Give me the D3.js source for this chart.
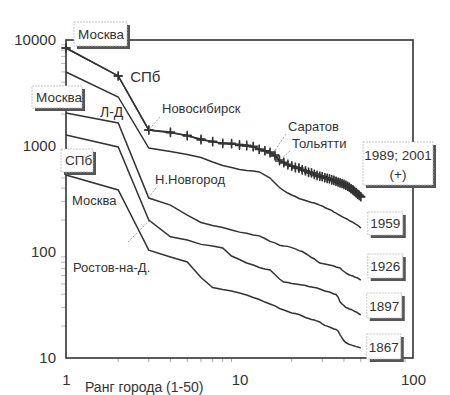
<!DOCTYPE html>
<html>
<head>
<meta charset="utf-8">
<script src="https://cdn.jsdelivr.net/npm/d3@7"></script>
<style>
  body { margin: 0; background: #fff; }
  svg { font-family: "Liberation Sans", Arial, sans-serif; }
</style>
</head>
<body>
<svg id="chart" width="450" height="395"></svg>
<script>
// city populations by rank (thousands)
const ranks = d3.range(1, 51);
const pop1867 = [532,385,104,89.7,80.5,57.4,46.3,44.3,42.9,41.0,39.3,37.2,35.6,33.7,32.3,31.0,29.3,28.4,27.5,26.6,26.3,25.7,24.9,24.1,23.6,23.1,22.8,22.3,21.9,21.0,20.3,20.0,19.6,19.2,18.8,18.6,18.0,16.5,15.5,14.5,14.0,13.7,13.4,13.3,13.1,13.0,12.8,12.7,12.6,12.4];
const pop1897 = [1270,979,200,139,130,118,114,109,91.7,85.0,78.7,75.4,71.4,69.1,67.6,61.4,55.6,52.1,51.5,50.5,49.9,49.3,48.8,48.3,47.3,46.8,46.3,45.7,44.8,43.8,42.9,42.4,41.9,41.0,40.2,39.7,37.6,33.7,32.3,31.3,29.9,29.6,29.0,28.7,28.1,27.5,27.2,26.6,26.0,25.5];
const pop1926 = [2047,1648,323,277,223,190,178,170,161,154,150,145,142,134,126,122,116,114,113,110,107,103,101,96.8,92.7,88.7,85.9,82.2,78.7,77.9,77.1,76.2,75.4,74.6,73.8,72.2,71.4,70.6,67.6,65.5,63.4,62.0,60.7,60.0,59.4,58.1,57.4,56.8,55.6,54.4];
const pop1959 = [4990,2900,957,887,832,779,706,655,627,600,587,581,569,532,499,448,406,380,360,345,334,320,313,306,299,293,290,284,277,272,263,257,252,247,238,233,226,221,216,211,207,203,198,194,190,186,182,178,174,168];
const pop1989 = [8400,4580,1415,1355,1242,1165,1091,1067,1044,1034,1020,980,938,897,880,823,740,690,675,645,634,613,600,581,568,556,544,532,521,516,505,499,489,483,478,468,457,453,443,438,429,420,411,397,389,376,364,352,345,334];
const pop2001 = [8400,4580,1415,1330,1265,1140,1110,1050,1060,1010,1000,995,925,905,860,805,720,705,660,650,620,625,590,585,560,560,535,525,515,510,498,492,492,476,470,462,455,446,440,432,425,414,405,393,382,370,360,348,340,330];

const xTicks = [1, 10, 100];
const yTicks = [10, 100, 1000, 10000];
const xTitle = "Ранг города (1-50)";

const ink = "#333";
const svg = d3.select("#chart");

const x = d3.scaleLog().domain([1, 100]).range([66, 413]);
const y = d3.scaleLog().domain([10, 10000]).range([358, 40]);

// minor ticks
const minorX = [2,3,4,5,6,7,8,9,20,30,40,50,60,70,80,90];
const minorY = [20,30,40,50,60,70,80,90,200,300,400,500,600,700,800,900,2000,3000,4000,5000,6000,7000,8000,9000];
svg.append("g").selectAll("line").data(minorX).join("line")
    .attr("x1", d => x(d)).attr("x2", d => x(d))
    .attr("y1", 358).attr("y2", 362)
    .attr("stroke", "#aaa").attr("stroke-width", 1);
svg.append("g").selectAll("line").data(minorY).join("line")
    .attr("x1", 61).attr("x2", 66)
    .attr("y1", d => y(d)).attr("y2", d => y(d))
    .attr("stroke", "#bbb").attr("stroke-width", 1);

// axes labels
const gx = svg.append("g").attr("transform", "translate(0,358)")
    .call(d3.axisBottom(x).tickValues(xTicks).tickFormat(d3.format("d")).tickSize(0).tickPadding(16));
gx.select(".domain").remove();
gx.selectAll("text").attr("font-size", 15).attr("fill", ink).attr("font-family", null);

const gy = svg.append("g").attr("transform", "translate(56,0)")
    .call(d3.axisLeft(y).tickValues(yTicks).tickFormat(d3.format("d")).tickSize(0).tickPadding(0));
gy.select(".domain").remove();
gy.selectAll("text").attr("font-size", 15).attr("fill", ink).attr("font-family", null);

svg.append("text")
    .attr("x", 85).attr("y", 392)
    .attr("font-size", 14).attr("fill", ink)
    .text(xTitle);

// frame
svg.append("rect")
    .attr("x", x(1)).attr("y", y(10000))
    .attr("width", x(100) - x(1)).attr("height", y(10) - y(10000))
    .attr("fill", "none").attr("stroke", ink).attr("stroke-width", 1.6);

// curves
const line = d3.line()
    .x((d, i) => x(ranks[i]))
    .y(d => y(d));

[pop1867, pop1897, pop1926, pop1959, pop1989, pop2001].forEach(s => {
    svg.append("path")
        .attr("d", line(s))
        .attr("fill", "none")
        .attr("stroke", ink)
        .attr("stroke-width", 1.5);
});

// crosses for 1989 and 2001
const crossPath = "M-4.5,0H4.5M0,-4.5V4.5";
[pop1989, pop2001].forEach(s => {
    svg.append("g").selectAll("path").data(s).join("path")
        .attr("transform", (d, i) => `translate(${x(ranks[i])},${y(d)})`)
        .attr("d", crossPath)
        .attr("stroke", ink)
        .attr("stroke-width", 1.4);
});

// boxed labels with shadow
function boxLabel(bx, by, w, h, lines, size, cx) {
    const g = svg.append("g");
    g.append("rect")
        .attr("x", bx + 3).attr("y", by + 3).attr("width", w).attr("height", h)
        .attr("fill", "#555");
    g.append("rect")
        .attr("x", bx).attr("y", by).attr("width", w).attr("height", h)
        .attr("fill", "#fff").attr("stroke", "#bbb").attr("stroke-width", 0.8)
        .attr("stroke-dasharray", "2,1");
    lines.forEach((t, i) => {
        g.append("text")
            .attr("x", cx ? bx + w / 2 : bx + 4)
            .attr("y", by + t.dy)
            .attr("text-anchor", cx ? "middle" : "start")
            .attr("font-size", size).attr("fill", ink)
            .text(t.text);
    });
}

boxLabel(74, 22, 53, 24, [{text: "Москва", dy: 17}], 13.5);
boxLabel(32, 86, 50, 22, [{text: "Москва", dy: 16}], 13.5);
boxLabel(61, 149, 32, 23, [{text: "СПб", dy: 16}], 13.5);
boxLabel(363, 142, 70, 43, [{text: "1989; 2001", dy: 18}, {text: "(+)", dy: 37}], 13.5, true);

const endX = x(50);
boxLabel(endX + 7, 212, 35, 23, [{text: "1959", dy: 16}], 13.5, true);
boxLabel(endX + 7, 254, 35, 24, [{text: "1926", dy: 17}], 13.5, true);
boxLabel(endX + 6, 293, 35, 25, [{text: "1897", dy: 18}], 13.5, true);
boxLabel(endX + 6, 334, 34, 25, [{text: "1867", dy: 18}], 13.5, true);

// plain labels
function label(tx, ty, t, size) {
    svg.append("text").attr("x", tx).attr("y", ty)
        .attr("font-size", size).attr("fill", ink).text(t);
}
label(x(2) + 12, y(pop1989[1]) + 6, "СПб", 15);
label(100, 117, "Л-Д", 14);
label(162, 113, "Новосибирск", 13);
label(155, 184, "Н.Новгород", 13);
label(72, 205, "Москва", 13);
label(73, 272, "Ростов-на-Д.", 13);
label(288, 131, "Саратов", 13);
label(292, 148, "Тольятти", 13);

// leader lines
const leaders = [
    [[160, 117], [x(3), y(pop1989[2])]],
    [[156, 188], [x(3), y(pop1959[2]) + 49]],
    [[128, 242], [x(3), y(pop1897[2]) + 1]],
    [[286, 134], [x(15) + 4, y(pop1989[14])]],
    [[290, 151], [x(17) + 3, y(pop1989[16]) - 2]]
];
svg.append("g").selectAll("line").data(leaders).join("line")
    .attr("x1", d => d[0][0]).attr("y1", d => d[0][1])
    .attr("x2", d => d[1][0]).attr("y2", d => d[1][1])
    .attr("stroke", "#999").attr("stroke-width", 0.9)
    .attr("stroke-dasharray", "2,1.5");
</script>
</body>
</html>
